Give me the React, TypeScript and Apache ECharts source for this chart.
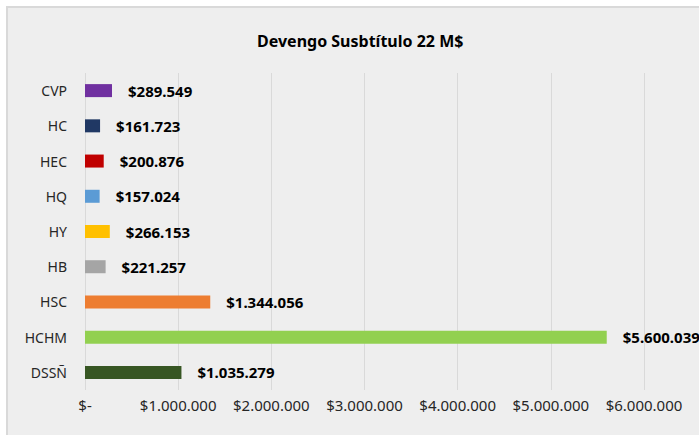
import React, { useEffect, useRef } from "react";
import * as echarts from "echarts";

const categories = ["CVP", "HC", "HEC", "HQ", "HY", "HB", "HSC", "HCHM", "DSSÑ"];
const values = [289549, 161723, 200876, 157024, 266153, 221257, 1344056, 5600039, 1035279];
const barColors = ["#7030a0", "#203864", "#c00000", "#5b9bd5", "#ffc000", "#a5a5a5", "#ed7d31", "#92d050", "#375623"];
const titleText = "Devengo Susbtítulo 22 M$";

const dotted = (v: number) => String(Math.round(v)).replace(/\B(?=(\d{3})+(?!\d))/g, ".");

export default function App() {
  const ref = useRef<HTMLDivElement>(null);
  useEffect(() => {
    document.body.style.margin = "0";
    const chart = echarts.init(ref.current!, null, { renderer: "svg" });
    const font = "'Noto Sans', sans-serif";
    chart.setOption({
      animation: false,
      backgroundColor: "#ffffff",
      graphic: [
        {
          type: "rect",
          z: -10,
          silent: true,
          shape: { x: 7, y: 7, width: 720, height: 460 },
          style: { fill: "#eeeeee", stroke: "#d9d9d9", lineWidth: 2 },
        },
      ],
      title: {
        text: titleText,
        left: 252,
        top: 28,
        textStyle: { fontFamily: font, fontSize: 16, fontWeight: "bold", color: "#000000" },
      },
      grid: { left: 85, top: 73, width: 559, height: 317 },
      xAxis: {
        type: "value",
        min: 0,
        max: 6000000,
        interval: 1000000,
        axisLine: { show: false },
        axisTick: { show: false },
        splitLine: { show: true, lineStyle: { color: "#d9d9d9", width: 1 } },
        axisLabel: {
          fontFamily: font,
          fontSize: 15,
          color: "#262626",
          margin: 7,
          formatter: (v: number) => (v === 0 ? "$-" : "$" + dotted(v)),
        },
      },
      yAxis: {
        type: "category",
        inverse: true,
        data: categories,
        axisLine: { show: false },
        axisTick: { show: false },
        splitLine: { show: false },
        axisLabel: { fontFamily: font, fontSize: 14, color: "#262626", margin: 18 },
      },
      series: [
        {
          type: "bar",
          barWidth: 13,
          data: values.map((v, i) => ({ value: v, itemStyle: { color: barColors[i] } })),
          label: {
            show: true,
            position: "right",
            distance: 16,
            fontFamily: font,
            fontSize: 15,
            fontWeight: "bold",
            color: "#000000",
            formatter: (p: any) => "$" + dotted(p.value),
          },
        },
      ],
    });
    return () => chart.dispose();
  }, []);
  return <div ref={ref} style={{ width: 699, height: 435 }} />;
}
